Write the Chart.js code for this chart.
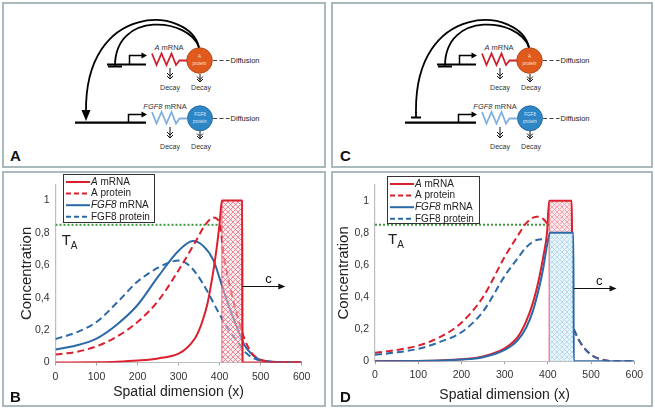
<!DOCTYPE html>
<html lang="en">
<head>
<meta charset="UTF-8">
<title>Spatial dimension (x)</title>
<style>
  body { margin: 0; background: #fff; font-family: "Liberation Sans", Arial, sans-serif; }
  .wrap { position: relative; width: 655px; height: 412px; overflow: hidden; }
  .panel { position: absolute; border: 2px solid #a9b9be; box-sizing: border-box; }
  canvas, svg { position: absolute; }
  .lbl { position: absolute; font-weight: bold; font-size: 15px; line-height: 15px; color: #111; }
</style>
</head>
<body>
<div class="wrap">
  <div class="panel" style="left:2px;top:2px;width:324px;height:166px"></div>
  <div class="panel" style="left:331px;top:2px;width:322px;height:166px"></div>
  <div class="panel" style="left:2px;top:171px;width:324px;height:236px"></div>
  <div class="panel" style="left:331px;top:171px;width:322px;height:236px"></div>

  <svg width="655" height="170" style="left:0;top:0" font-family="Liberation Sans, Arial, sans-serif">
    <defs>
      <g id="core">
        <!-- upper gene + promoter -->
        <path d="M107,64.5 H146" stroke="#000" stroke-width="2.2" fill="none"/>
        <path d="M129.5,64.5 V55.5 H143" stroke="#000" stroke-width="1.5" fill="none"/>
        <path d="M141.5,52.5 L147,55.5 L141.5,58.5 Z" fill="#000"/>
        <!-- A mRNA -->
        <text x="169" y="49.5" font-size="7.5" text-anchor="middle" fill="#333"><tspan font-style="italic">A</tspan> mRNA</text>
        <path d="M152,53.5 L156.5,65 L161.5,53.5 L166.5,65 L171.5,53.5 L176,65 L179.5,60.5 H187" stroke="#d0202e" stroke-width="1.8" fill="none"/>
        <circle cx="199.5" cy="60.5" r="12.8" fill="#e05a1e" stroke="#a8400f" stroke-width="0.8"/>
        <text x="199.5" y="58" font-size="4.5" text-anchor="middle" fill="#fbe3c8">A</text>
        <text x="199.5" y="64.5" font-size="4.5" text-anchor="middle" fill="#fbe3c8">protein</text>
        <path d="M213,60.5 H229.5" stroke="#444" stroke-width="1.2" stroke-dasharray="4,2.5"/>
        <text x="230.5" y="63" font-size="7.5" fill="#222">Diffusion</text>
        <!-- decay (upper) -->
        <path d="M170,68 V79 M167,73 L170,76 L173,73 M167,76 L170,79 L173,76" stroke="#111" stroke-width="1" fill="none"/>
        <path d="M200,74 V82 M197,76.5 L200,79.5 L203,76.5 M197,79 L200,82 L203,79" stroke="#111" stroke-width="1" fill="none"/>
        <text x="170" y="89.5" font-size="7" text-anchor="middle" fill="#333">Decay</text>
        <text x="201" y="90" font-size="7" text-anchor="middle" fill="#333">Decay</text>

        <!-- lower gene + promoter -->
        <path d="M75,122.7 H146" stroke="#000" stroke-width="2.2" fill="none"/>
        <path d="M128.5,122.7 V114.5 H143" stroke="#000" stroke-width="1.5" fill="none"/>
        <path d="M141.5,111.5 L147,114.5 L141.5,117.5 Z" fill="#000"/>
        <text x="165" y="108.5" font-size="7.5" text-anchor="middle" fill="#333"><tspan font-style="italic">FGF8</tspan> mRNA</text>
        <path d="M152,112 L156.5,123.5 L161.5,112 L166.5,123.5 L171.5,112 L176,123.5 L179.5,118.5 H187" stroke="#7fb0dc" stroke-width="1.8" fill="none"/>
        <circle cx="200" cy="118.3" r="12.5" fill="#2f86c6" stroke="#1f5f90" stroke-width="0.8"/>
        <text x="200" y="116" font-size="4.5" text-anchor="middle" fill="#dcebf7">FGF8</text>
        <text x="200" y="122.5" font-size="4.5" text-anchor="middle" fill="#dcebf7">protein</text>
        <path d="M213,118.5 H229.5" stroke="#444" stroke-width="1.2" stroke-dasharray="4,2.5"/>
        <text x="230.5" y="121" font-size="7.5" fill="#222">Diffusion</text>
        <path d="M170,127 V138 M167,132 L170,135 L173,132 M167,135 L170,138 L173,135" stroke="#111" stroke-width="1" fill="none"/>
        <path d="M200,131 V139 M197,133.5 L200,136.5 L203,133.5 M197,136 L200,139 L203,136" stroke="#111" stroke-width="1" fill="none"/>
        <text x="170" y="148.5" font-size="7" text-anchor="middle" fill="#333">Decay</text>
        <text x="201" y="148.5" font-size="7" text-anchor="middle" fill="#333">Decay</text>

        <!-- self inhibition of A -->
        <path d="M199,47.5 C190,18 115,10 115,66" stroke="#000" stroke-width="1.8" fill="none"/>
        <path d="M108,66.5 H122" stroke="#000" stroke-width="2"/>
        <!-- long arc -->
        <path d="M199,47.5 C190,6 84,0 86,113" stroke="#000" stroke-width="1.8" fill="none"/>
      </g>
    </defs>
    <use href="#core"/>
    <path d="M81.5,110 L90.5,110 L86,121 Z" fill="#000"/>
    <g transform="translate(330,0)">
      <use href="#core"/>
      <path d="M81,117.5 H91" stroke="#000" stroke-width="2"/>
      <path d="M86,112 V117.5" stroke="#000" stroke-width="1.8"/>
    </g>
  </svg>

  <canvas id="chartB" width="322" height="234" style="left:3px;top:172px"></canvas>
  <canvas id="chartD" width="320" height="234" style="left:332px;top:172px"></canvas>

  <div class="lbl" style="left:10px;top:148px">A</div>
  <div class="lbl" style="left:340px;top:148px">C</div>
  <div class="lbl" style="left:10px;top:389px">B</div>
  <div class="lbl" style="left:340px;top:389px">D</div>
</div>

<script src="https://cdn.jsdelivr.net/npm/chart.js"></script>
<script>
// ---- data ----
const xTicks = [0, 100, 200, 300, 400, 500, 600];
const yTicks = [0, 0.2, 0.4, 0.6, 0.8, 1];
const legendItalic = ['A', '', 'FGF8', ''];
const legendText = [' mRNA', 'A protein', ' mRNA', 'FGF8 protein'];
const thresholdTA = 0.85;

// panel B
const bAmrnaX = [0, 100, 150, 200, 250, 300, 320, 340, 350, 360, 370, 377, 385, 393, 400, 405.5, 455, 456, 500, 600];
const bAmrnaY = [0, 0.002, 0.005, 0.012, 0.025, 0.055, 0.09, 0.15, 0.2, 0.27, 0.36, 0.45, 0.57, 0.71, 0.86, 1, 1, 0, 0, 0];
const bAproX = [0, 50, 100, 150, 200, 250, 300, 340, 365, 385, 400, 410, 425, 445, 460, 475, 490, 510, 550, 600];
const bAproY = [0.05, 0.065, 0.1, 0.16, 0.25, 0.38, 0.57, 0.74, 0.85, 0.895, 0.86, 0.66, 0.47, 0.27, 0.15, 0.07, 0.03, 0.01, 0, 0];
const bFmrnaX = [0, 50, 100, 150, 200, 250, 300, 335, 360, 385, 405, 425, 445, 460, 475, 495, 530, 600];
const bFmrnaY = [0.08, 0.105, 0.148, 0.235, 0.355, 0.53, 0.69, 0.75, 0.72, 0.63, 0.48, 0.33, 0.2, 0.11, 0.06, 0.02, 0.005, 0];
const bFproX = [0, 50, 100, 150, 200, 250, 280, 300, 320, 340, 370, 395, 420, 440, 460, 480, 510, 600];
const bFproY = [0.145, 0.185, 0.25, 0.37, 0.5, 0.585, 0.62, 0.63, 0.61, 0.56, 0.44, 0.32, 0.21, 0.14, 0.07, 0.03, 0.008, 0];
const bBandX = [405.5, 405.5, 455, 455];
const bBandY = [0, 1, 1, 0];
const bThreshX = [0, 400];

// panel D
const dAmrnaX = [0, 100, 150, 200, 250, 300, 330, 350, 365, 380, 390, 398, 403, 455, 456];
const dAmrnaY = [0, 0.002, 0.005, 0.012, 0.03, 0.08, 0.15, 0.25, 0.36, 0.52, 0.66, 0.8, 1, 1, 0.8];
const dFmrnaX = [0, 100, 150, 200, 250, 300, 330, 350, 365, 380, 390, 398, 405, 459, 460, 600];
const dFmrnaY = [0, 0.001, 0.004, 0.01, 0.025, 0.07, 0.13, 0.21, 0.31, 0.46, 0.59, 0.72, 0.8, 0.8, 0, 0];
const dProtX = [0, 50, 100, 150, 200, 250, 300, 330, 350, 374, 390, 400, 430, 460, 470, 482, 500, 525, 560, 600];
const dAproY = [0.052, 0.07, 0.097, 0.15, 0.24, 0.4, 0.65, 0.78, 0.86, 0.9, 0.885, 0.85, null, 0.2, 0.14, 0.09, 0.04, 0.01, 0, 0];
const dFproY = [0.04, 0.055, 0.077, 0.12, 0.18, 0.31, 0.53, 0.64, 0.71, 0.755, 0.76, 0.745, null, 0.2, 0.14, 0.09, 0.04, 0.01, 0, 0];
const dBandRedX = [403, 403, 455, 455];
const dBandRedY = [0.8, 1, 1, 0.8];
const dBandBlueX = [404, 404, 459, 459];
const dBandBlueY = [0, 0.8, 0.8, 0];
const dEdgeX = [403, 403];
const dEdgeY = [0, 1];
const dThreshX = [0, 405];

// annotation spots (data units)
const bNotes = { ta: [15, 0.75], arrow: [455, 560, 0.473], c: [519, 0.51] };
const dNotes = { ta: [30, 0.755], arrow: [460, 559, 0.458], c: [519, 0.495] };

// ---- drawing ----
const FONT = '"Liberation Sans", Arial, sans-serif';
const RED = '#dc1f2d';
const BLUE = '#2b69a8';
const DASH = [7, 4];
Chart.defaults.font.family = FONT;
Chart.defaults.color = '#222';

function pts(xs, ys) {
  return xs.map((x, i) => ({ x: x, y: ys[i] }));
}

function series(xs, ys, color, dash, extra) {
  return Object.assign({
    data: pts(xs, ys), showLine: true, borderColor: color, borderWidth: 2,
    borderDash: dash || [], pointRadius: 0, fill: false, cubicInterpolationMode: 'monotone'
  }, extra || {});
}

function hatch(line, bg) {
  const c = document.createElement('canvas');
  c.width = 5; c.height = 5;
  const g = c.getContext('2d');
  g.fillStyle = bg; g.fillRect(0, 0, 5, 5);
  g.strokeStyle = line; g.lineWidth = 1;
  g.beginPath();
  g.moveTo(0, 0); g.lineTo(5, 5);
  g.moveTo(5, 0); g.lineTo(0, 5);
  g.stroke();
  return g.createPattern(c, 'repeat');
}

const legendStyles = [
  { color: RED, dash: [] }, { color: RED, dash: [5, 3] },
  { color: BLUE, dash: [] }, { color: BLUE, dash: [5, 3] }
];

const overlay = {
  id: 'overlay',
  afterDraw(chart, args, o) {
    const ctx = chart.ctx, xs = chart.scales.x, ys = chart.scales.y;
    ctx.save();
    // threshold label
    ctx.fillStyle = '#222';
    ctx.textBaseline = 'middle';
    ctx.textAlign = 'left';
    ctx.font = '15px ' + FONT;
    const tx = xs.getPixelForValue(o.notes.ta[0]), ty = ys.getPixelForValue(o.notes.ta[1]);
    ctx.fillText('T', tx, ty);
    const tw = ctx.measureText('T').width;
    ctx.font = '10px ' + FONT;
    ctx.fillText('A', tx + tw, ty + 5);
    // front speed arrow
    const ax0 = xs.getPixelForValue(o.notes.arrow[0]);
    const ax1 = xs.getPixelForValue(o.notes.arrow[1]);
    const ay = Math.round(ys.getPixelForValue(o.notes.arrow[2])) + 0.5;
    ctx.strokeStyle = '#111';
    ctx.fillStyle = '#111';
    ctx.lineWidth = 1.2;
    ctx.beginPath(); ctx.moveTo(ax0, ay); ctx.lineTo(ax1 - 4, ay); ctx.stroke();
    ctx.beginPath(); ctx.moveTo(ax1, ay); ctx.lineTo(ax1 - 7, ay - 3); ctx.lineTo(ax1 - 7, ay + 3); ctx.closePath(); ctx.fill();
    ctx.font = '13px ' + FONT;
    ctx.textAlign = 'center';
    ctx.fillText('c', xs.getPixelForValue(o.notes.c[0]), ys.getPixelForValue(o.notes.c[1]));
    // legend box
    const b = o.box;
    ctx.fillStyle = '#fff';
    ctx.fillRect(b.x, b.y, b.w, b.h);
    ctx.strokeStyle = '#333';
    ctx.lineWidth = 1;
    ctx.strokeRect(b.x + 0.5, b.y + 0.5, b.w, b.h);
    ctx.textAlign = 'left';
    legendText.forEach((t, i) => {
      const cy = b.y + 8 + i * 11.6;
      const st = legendStyles[i];
      ctx.strokeStyle = st.color;
      ctx.lineWidth = 2;
      ctx.setLineDash(st.dash);
      ctx.beginPath(); ctx.moveTo(b.x + 3, cy); ctx.lineTo(b.x + 27, cy); ctx.stroke();
      ctx.setLineDash([]);
      let x = b.x + 28;
      ctx.fillStyle = '#222';
      if (legendItalic[i]) {
        ctx.font = 'italic 10px ' + FONT;
        ctx.fillText(legendItalic[i], x, cy);
        x += ctx.measureText(legendItalic[i]).width;
      }
      ctx.font = '10px ' + FONT;
      ctx.fillText(t, x, cy);
    });
    ctx.restore();
  }
};

function fmt(v) {
  return Number.isInteger(v) ? String(v) : v.toFixed(1).replace('.', ',');
}

function makeChart(id, datasets, L) {
  return new Chart(document.getElementById(id), {
    type: 'scatter',
    data: { datasets: datasets },
    plugins: [overlay],
    options: {
      responsive: false,
      animation: false,
      layout: { padding: { left: 0, top: L.top, right: L.right, bottom: 0 } },
      plugins: {
        legend: { display: false },
        tooltip: { enabled: false },
        overlay: { notes: L.notes, box: L.box }
      },
      scales: {
        x: {
          type: 'linear', min: 0, max: 600,
          afterBuildTicks: s => { s.ticks = xTicks.map(v => ({ value: v })); },
          afterFit: s => { s.height = L.xh; },
          ticks: { font: { size: 10.5 }, color: '#333', padding: 5, maxRotation: 0 },
          grid: { drawOnChartArea: false, tickLength: 3, color: '#a0a0a0' },
          border: { color: '#bdbdbd', width: 1 },
          title: { display: true, text: 'Spatial dimension (x)', font: { size: 14 }, color: '#222', padding: { top: 0, bottom: L.xtp } }
        },
        y: {
          type: 'linear', min: 0, max: 1.1,
          afterBuildTicks: s => { s.ticks = yTicks.map(v => ({ value: v })); },
          afterFit: s => { s.width = L.yw; },
          ticks: { font: { size: 10.5 }, color: '#333', padding: 6, callback: fmt },
          grid: { display: false, drawTicks: false },
          border: { color: '#bdbdbd', width: 1.2 },
          title: { display: true, text: 'Concentration', font: { size: 15 }, color: '#222', padding: { top: L.ytp, bottom: 0 } }
        }
      }
    }
  });
}

// panel B
makeChart('chartB', [
  series(bAmrnaX, bAmrnaY, RED),
  series(bBandX, bBandY, 'rgba(225,60,80,0.8)', [], {
    borderWidth: 1, cubicInterpolationMode: 'default', tension: 0,
    fill: 'origin', backgroundColor: hatch('rgba(232,96,114,0.7)', 'rgba(252,222,226,0.5)')
  }),
  series(bAproX, bAproY, RED, DASH),
  series(bFmrnaX, bFmrnaY, BLUE),
  series(bFproX, bFproY, BLUE, DASH),
  series(bThreshX, [thresholdTA, thresholdTA], '#3d9b3d', [2, 2], { tension: 0, cubicInterpolationMode: 'default' })
], { top: 10.65, right: 23.3, xh: 43.5, yw: 52.5, xtp: 5.2, ytp: 15, notes: bNotes, box: { x: 60, y: 2, w: 91, h: 48 } });

// panel D
makeChart('chartD', [
  series(dEdgeX, dEdgeY, 'rgba(225,50,70,0.85)', [], { borderWidth: 1, tension: 0, cubicInterpolationMode: 'default' }),
  series(dFmrnaX, dFmrnaY, BLUE),
  series(dAmrnaX, dAmrnaY, RED),
  series(dProtX, dFproY, BLUE, DASH),
  series(dProtX, dAproY, RED, DASH),
  series(dBandRedX, dBandRedY, 'rgba(0,0,0,0)', [], {
    borderWidth: 0, tension: 0, cubicInterpolationMode: 'default',
    fill: { value: 0.8 }, backgroundColor: hatch('#f2a4ae', '#fbe6e9')
  }),
  series(dBandBlueX, dBandBlueY, 'rgba(0,0,0,0)', [], {
    borderWidth: 0, tension: 0, cubicInterpolationMode: 'default',
    fill: 'origin', backgroundColor: hatch('#b6dbee', '#e9f5fb')
  }),
  series(dThreshX, [thresholdTA, thresholdTA], '#3d9b3d', [2, 2], { tension: 0, cubicInterpolationMode: 'default' })
], { top: 12.6, right: 17.7, xh: 44.8, yw: 43, xtp: 2.6, ytp: 3, notes: dNotes, box: { x: 55, y: 4, w: 92, h: 47 } });
</script>
</body>
</html>
